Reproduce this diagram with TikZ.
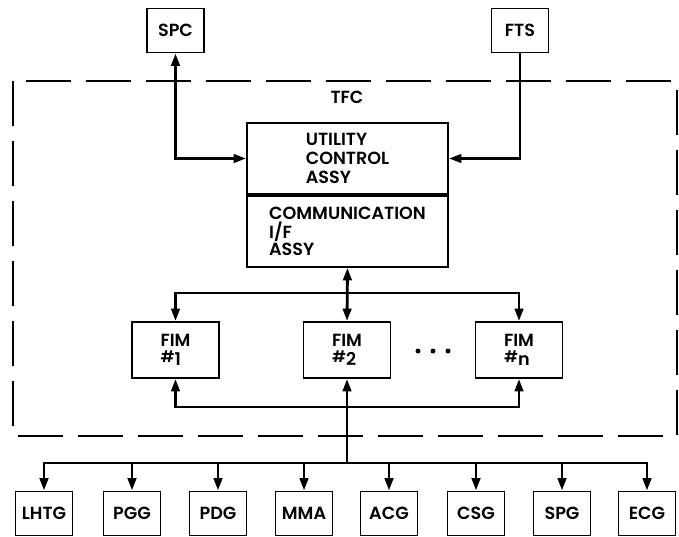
\documentclass[tikz,border=0pt]{standalone}
\usepackage{fontspec}
\setmainfont{Poppins}[UprightFont=* Medium, BoldFont=* SemiBold]
\usetikzlibrary{arrows.meta,calc}
\tikzset{
  >={Triangle[length=2.5mm,width=1.7mm]},
  unit/.style={draw, line width=1.1pt, inner sep=1pt, align=center, font=\fontsize{10}{11}\selectfont\bfseries},
  tag/.style={unit, minimum width=1.14cm, minimum height=0.88cm},
  fim/.style={unit, align=left, minimum width=1.74cm, minimum height=1.12cm, font=\fontsize{10}{9}\selectfont\bfseries},
  assy/.style={unit, align=left, minimum width=4.02cm, minimum height=1.42cm},
  link/.style={line width=1.6pt},
  frame/.style={line width=1.6pt, dash pattern=on 0.9cm off 0.3cm},
  note/.style={font=\fontsize{10}{11}\selectfont\bfseries}
}
\newcommand{\fimno}[1]{{\small\#}\raisebox{-0.35ex}{#1}}

\begin{document}
\begin{tikzpicture}[x=0.02cm, y=-0.02cm]
  \useasboundingbox (0,0) rectangle (679,537);
  \draw[frame] (13,81) rectangle (677,436);
  \node[note] (tfc) at (347,97) {TFC};

  \node[tag] (spc) at (175.5,30.5) {SPC};
  \node[tag] (fts) at (520,30.5) {FTS};

  \node[assy] (util) at (347.5,158.5) {UTILITY\\CONTROL\\ASSY};
  \node[assy, anchor=north, font=\fontsize{10}{8.6}\selectfont\bfseries] (comm) at (util.south) {COMMUNICATION\\I/F\\ASSY};

  \node[fim] (fim1) at (175.5,350) {FIM\\\fimno{1}};
  \node[fim] (fim2) at (347,350) {FIM\\\fimno{2}};
  \node[fim] (fimn) at (519,350) {FIM\\\fimno{n}};
  \foreach \dx in {-15,0,15}
    \fill (433+\dx,351) circle (0.05cm);

  \coordinate (topbus) at (347,293);
  \coordinate (lowbus) at (347,407);
  \coordinate (trunk) at (347,463);

  \draw[link,<->] (spc.south) |- (util.west);
  \draw[link,->] (fts.south) |- (util.east);
  \draw[link,<->] (comm.south) -- (fim2.north);
  \draw[link,<->] (fim1.north) |- (topbus) -| (fimn.north);
  \draw[link,<->] (fim1.south) |- (lowbus) -| (fimn.south);
  \draw[link,->] (trunk) -- (fim2.south);

  \foreach \name/\x [count=\i] in {LHTG/44,PGG/132,PDG/218,MMA/304,ACG/389,CSG/476,SPG/562,ECG/647}
    \node[tag] (g\i) at (\x,513.5) {\name};
  \draw[link,<->] (g1.north) |- (trunk) -| (g8.north);
  \foreach \i in {2,...,7}
    \draw[link,->] (g\i.north |- trunk) -- (g\i.north);
\end{tikzpicture}
\end{document}
